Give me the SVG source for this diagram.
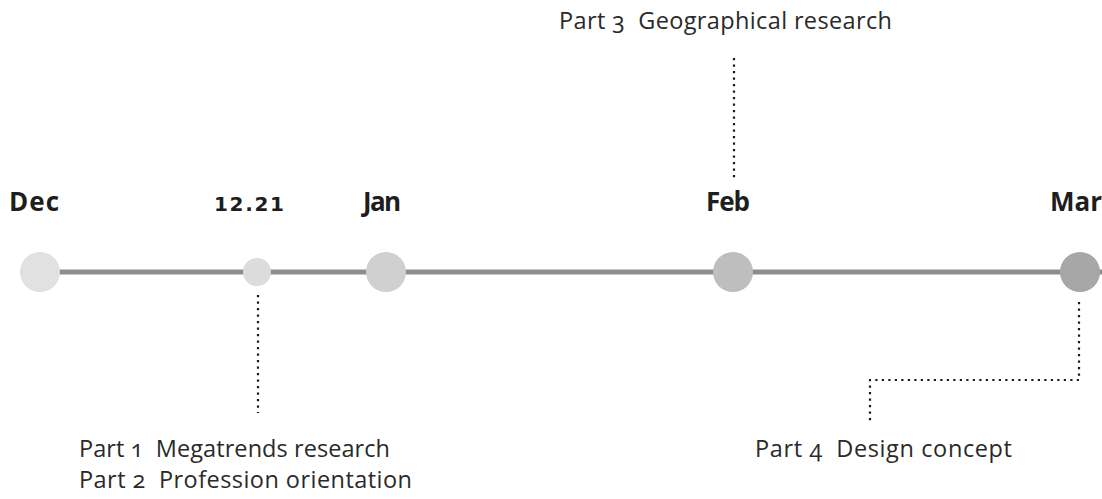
<svg xmlns="http://www.w3.org/2000/svg" width="1102" height="499" viewBox="0 0 1102 499">
  <style>
    .month { font-family: "Open Sans", "Liberation Sans", sans-serif; font-weight: 700; font-size: 26px; fill: #1e1e1e; }
    .date { font-family: "DejaVu Sans", "Liberation Sans", sans-serif; font-weight: 700; font-size: 20px; fill: #1e1e1e; }
    .part { font-family: "Open Sans", "Liberation Sans", sans-serif; font-size: 23.5px; fill: #2a2a2a; font-variant-numeric: oldstyle-nums; white-space: pre; }
    .dots { fill: none; stroke: #1a1a1a; stroke-width: 2.2; stroke-dasharray: 2.2 4.3; }
  </style>
  <rect width="1102" height="499" fill="#ffffff"/>

  <!-- timeline axis and dotted leaders -->
  <g id="connectors">
    <line x1="40" y1="272" x2="1102" y2="272" stroke="#8e8e8e" stroke-width="5"/>
    <path class="dots" d="M258 295 V413"/>
    <path class="dots" d="M734 58 V178"/>
    <path class="dots" d="M1079 302 V380 H870 V423"/>
  </g>

  <g id="dec">
    <circle cx="40" cy="272" r="20" fill="#e1e1e1"/>
    <text class="month" x="9" y="211" textLength="50" lengthAdjust="spacing">Dec</text>
  </g>
  <g id="d1221">
    <circle cx="257" cy="272" r="14" fill="#dcdcdc"/>
    <text class="date" x="214" y="211" textLength="70" lengthAdjust="spacing">12.21</text>
  </g>
  <g id="jan">
    <circle cx="386" cy="272" r="20" fill="#d0d0d0"/>
    <text class="month" x="363" y="211" textLength="38" lengthAdjust="spacing">Jan</text>
  </g>
  <g id="feb">
    <circle cx="733" cy="272" r="20" fill="#bebebe"/>
    <text class="month" x="706" y="211" textLength="44" lengthAdjust="spacing">Feb</text>
  </g>
  <g id="mar">
    <circle cx="1080" cy="272" r="20" fill="#a7a7a8"/>
    <text class="month" x="1050" y="211" textLength="52" lengthAdjust="spacing">Mar</text>
  </g>

  <g id="part3">
    <text class="part" x="559" y="29" xml:space="preserve" textLength="333" lengthAdjust="spacing">Part 3  Geographical research</text>
  </g>
  <g id="part12">
    <text class="part" x="79" y="457" xml:space="preserve" textLength="311" lengthAdjust="spacing">Part 1  Megatrends research</text>
    <text class="part" x="79" y="488" xml:space="preserve" textLength="333" lengthAdjust="spacing">Part 2  Profession orientation</text>
  </g>
  <g id="part4">
    <text class="part" x="755" y="457" xml:space="preserve" textLength="257" lengthAdjust="spacing">Part 4  Design concept</text>
  </g>
</svg>
